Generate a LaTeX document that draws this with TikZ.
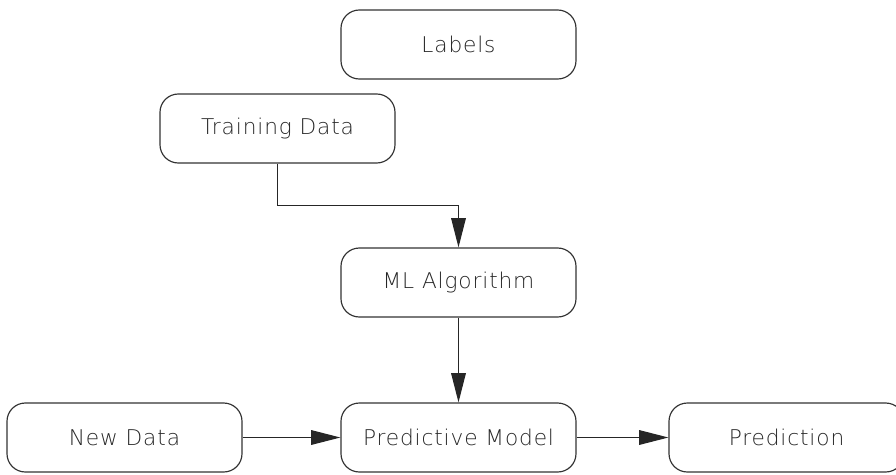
\documentclass[tikz,border=0pt]{standalone}
\usepackage{fontspec}
\setmainfont[LetterSpace=4]{DejaVu Sans ExtraLight}
\usetikzlibrary{arrows.meta,calc}

\begin{document}
\begin{tikzpicture}[
    x=0.03cm, y=-0.03cm,
    line width=1pt,
    every node/.style={font=\fontsize{18.5}{22}\selectfont, text=black!85},
    block/.style={draw=black!80, rounded corners=0.55cm, minimum width=7.05cm,
        minimum height=2.07cm, inner sep=0pt},
    flow/.style={draw=black!85, -{Triangle[length=0.88cm, width=0.44cm]}}
]
\useasboundingbox (0,0) rectangle (896,474);

% Boxes
\node[block] (labels) at (458.5,44.5) {Labels};
\node[block] (train) at (277.5,128.5) {Training Data};
\node[block] (algo) at (458.5,282.5) {ML Algorithm};
\node[block] (newdata) at (124.5,437.5) {New Data};
\node[block] (model) at (458.5,437.5) {Predictive Model};
\node[block] (pred) at (786.5,437.5) {Prediction};

% Connectors
\draw[flow] (train.south) |- ($(train.south)!0.5!(algo.north)$) -| (algo.north);
\draw[flow] (algo) -- (model);
\draw[flow] (newdata) -- (model);
\draw[flow] (model) -- (pred);

\end{tikzpicture}
\end{document}
